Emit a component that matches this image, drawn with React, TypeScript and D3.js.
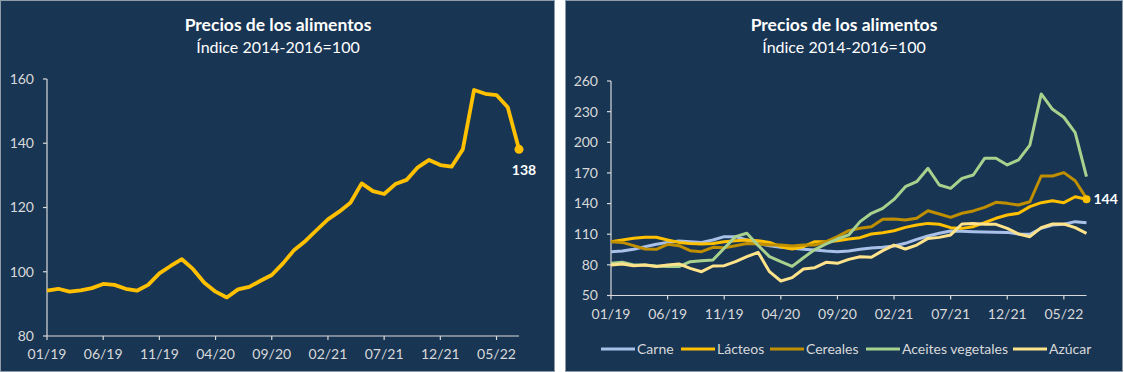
import React from 'react';
import * as d3 from 'd3';

// Meses 01/19 ... 07/22
const meses = d3.timeMonth.range(new Date(2019, 0, 1), new Date(2022, 7, 1));
const tickLabels = ['01/19', '06/19', '11/19', '04/20', '09/20', '02/21', '07/21', '12/21', '05/22'];

const indiceAlimentos = [
  94.1, 94.7, 93.8, 94.2, 94.9, 96.2, 95.9, 94.7, 94.1, 95.9,
  99.5, 101.8, 103.9, 100.8, 96.6, 93.8, 92.0, 94.5, 95.3, 97.2,
  99.0, 102.6, 106.8, 109.6, 113.0, 116.3, 118.7, 121.5, 127.5, 125.1,
  124.2, 127.3, 128.6, 132.5, 134.8, 133.2, 132.7, 138.1, 156.6, 155.4,
  155.0, 151.2, 138.1,
];

const carne = [
  92.9, 93.5, 95.2, 97.8, 100.1, 102.0, 103.3, 102.7, 102.0, 104.3,
  107.6, 107.6, 104.3, 101.0, 98.8, 97.2, 96.2, 95.2, 94.5, 93.5,
  92.9, 93.5, 95.2, 96.5, 97.2, 98.5, 101.1, 105.0, 108.2, 110.9,
  113.1, 113.0, 112.5, 112.2, 112.0, 111.8, 110.2, 110.0, 115.8, 119.0,
  119.7, 122.3, 121.3,
];
const lacteos = [
  102.7, 104.3, 106.0, 107.0, 107.0, 104.3, 102.0, 101.0, 100.4, 101.0,
  102.7, 103.7, 104.3, 103.7, 102.0, 97.8, 95.5, 97.8, 102.7, 102.7,
  103.7, 105.3, 106.6, 110.2, 111.5, 113.4, 116.7, 119.0, 120.6, 119.7,
  116.4, 115.7, 117.4, 121.3, 125.6, 128.8, 130.5, 137.0, 140.9, 142.8,
  140.9, 146.7, 144.2,
];
const cereales = [
  102.7, 102.0, 98.8, 95.5, 95.2, 100.1, 98.8, 93.9, 92.9, 97.2,
  96.8, 98.8, 101.0, 100.4, 99.4, 99.4, 98.5, 99.4, 99.4, 102.7,
  107.6, 113.5, 115.8, 117.4, 124.6, 124.9, 123.9, 125.6, 133.0, 129.8,
  126.5, 130.5, 132.8, 136.3, 141.2, 140.2, 138.6, 141.8, 167.0, 167.0,
  170.3, 162.4, 145.1,
];
const aceites = [
  81.5, 82.5, 79.9, 79.9, 78.9, 78.3, 78.3, 83.1, 84.1, 84.8,
  96.2, 107.6, 110.9, 99.0, 88.0, 83.1, 78.5, 87.0, 95.0, 100.5,
  105.3, 109.3, 122.3, 130.5, 135.3, 144.1, 156.5, 161.4, 174.5, 158.2,
  154.9, 164.7, 168.0, 184.3, 184.3, 177.8, 182.7, 197.3, 247.3, 232.3,
  224.5, 209.4, 166.3,
];
const azucar = [
  79.9, 80.9, 79.2, 79.9, 78.3, 79.9, 80.9, 76.6, 73.3, 78.9,
  79.2, 83.1, 88.0, 92.2, 73.3, 64.2, 67.5, 76.0, 77.2, 82.5,
  81.5, 85.4, 88.0, 87.4, 93.9, 99.4, 95.5, 99.4, 105.9, 106.9,
  109.3, 120.0, 120.6, 119.7, 119.7, 115.8, 110.2, 107.6, 116.4, 120.0,
  120.0, 116.4, 110.9,
];

const seriesNames = ['Carne', 'Lácteos', 'Cereales', 'Aceites vegetales', 'Azúcar'];
const seriesValues = [carne, lacteos, cereales, aceites, azucar];
const seriesColors = ['#a9c1e8', '#ffc000', '#bf8f00', '#a9d18e', '#ffe38a'];

const leftTicks = [80, 100, 120, 140, 160];
const rightTicks = [50, 80, 110, 140, 170, 200, 230, 260];

const BG = '#183554';
const AXIS = '#d9d9d9';
const FONT = 'Lato, "Open Sans", sans-serif';
const fmt = d3.timeFormat('%m/%y');

type AxesProps = {
  x: d3.ScaleLinear<number, number>;
  y: d3.ScaleLinear<number, number>;
  yTicks: number[];
  labelY: number;
};

const Axes = ({ x, y, yTicks, labelY }: AxesProps) => {
  const [x0, x1] = x.range();
  const [yb, yt] = y.range();
  const tickIdx = meses.map((m, i) => (tickLabels.includes(fmt(m)) ? i : -1)).filter((i) => i >= 0);
  return (
    <g>
      <line x1={x0} x2={x0} y1={yb} y2={yt} stroke={AXIS} strokeWidth={1.2} />
      <line x1={x0} x2={x1} y1={yb} y2={yb} stroke={AXIS} strokeWidth={1.2} />
      {yTicks.map((t) => (
        <g key={t}>
          <line x1={x0 - 4} x2={x0} y1={y(t)} y2={y(t)} stroke={AXIS} strokeWidth={1.2} />
          <text x={x0 - 13} y={y(t)} dy="0.35em" textAnchor="end" fill={AXIS} fontSize={14} fontFamily={FONT}>
            {t}
          </text>
        </g>
      ))}
      {tickIdx.map((i) => (
        <g key={i}>
          <line x1={x(i)} x2={x(i)} y1={yb} y2={yb + 4} stroke={AXIS} strokeWidth={1.2} />
          <text x={x(i)} y={labelY} dy="0.35em" textAnchor="middle" fill={AXIS} fontSize={14} fontFamily={FONT}>
            {fmt(meses[i])}
          </text>
        </g>
      ))}
    </g>
  );
};

const Title = ({ cx }: { cx: number }) => (
  <g fontFamily={FONT} fill="#ffffff" textAnchor="middle">
    <text x={cx} y={25} dy="0.35em" fontSize={17.5} fontWeight="bold">Precios de los alimentos</text>
    <text x={cx} y={47} dy="0.35em" fontSize={16}>Índice 2014-2016=100</text>
  </g>
);

const App = () => {
  // panel izquierdo
  const xL = d3.scaleLinear().domain([0, meses.length - 1]).range([47, 519]);
  const yL = d3.scaleLinear().domain([80, 160]).range([336, 79]);
  const lineL = d3.line<number>().x((_, i) => xL(i)).y((d) => yL(d));
  const lastL = indiceAlimentos.length - 1;

  // panel derecho
  const xR = d3.scaleLinear().domain([0, meses.length - 1]).range([611, 1086.5]);
  const yR = d3.scaleLinear().domain([50, 260]).range([295.5, 81]);
  const lineR = d3.line<number>().x((_, i) => xR(i)).y((d) => yR(d));
  const lastR = lacteos.length - 1;

  // leyenda
  const legendX = [601, 681, 770, 866, 1013];

  return (
    <svg width={1124} height={372} style={{ position: 'absolute', left: 0, top: 0, background: '#fff' }}>
      <rect x={0.5} y={0.5} width={554} height={371} fill={BG} stroke="#8e9bab" />
      <rect x={565.5} y={0.5} width={557} height={371} fill={BG} stroke="#8e9bab" />

      <Title cx={278} />
      <Axes x={xL} y={yL} yTicks={leftTicks} labelY={354} />
      <path d={lineL(indiceAlimentos) || ''} fill="none" stroke="#ffc000" strokeWidth={3.8} strokeLinejoin="round" />
      <circle cx={xL(lastL)} cy={yL(indiceAlimentos[lastL])} r={4.5} fill="#ffc000" />
      <text x={xL(lastL) + 5} y={yL(indiceAlimentos[lastL]) + 21} dy="0.35em" textAnchor="middle" fill="#fff"
        fontFamily={FONT} fontWeight="bold" fontSize={14}>
        {Math.round(indiceAlimentos[lastL])}
      </text>

      <Title cx={844} />
      <Axes x={xR} y={yR} yTicks={rightTicks} labelY={314} />
      {seriesValues.map((vals, k) => (
        <path key={seriesNames[k]} d={lineR(vals) || ''} fill="none" stroke={seriesColors[k]} strokeWidth={3}
          strokeLinejoin="round" />
      ))}
      <circle cx={xR(lastR)} cy={yR(lacteos[lastR])} r={4} fill="#ffc000" />
      <text x={xR(lastR) + 7} y={yR(lacteos[lastR])} dy="0.35em" fill="#fff" fontFamily={FONT} fontWeight="bold"
        fontSize={14}>
        {Math.round(lacteos[lastR])}
      </text>

      {seriesNames.map((name, k) => (
        <g key={name} transform={`translate(${legendX[k]},349)`}>
          <line x1={0} x2={34} y1={0} y2={0} stroke={seriesColors[k]} strokeWidth={3} />
          <text x={36} y={0} dy="0.35em" fill={AXIS} fontFamily={FONT} fontSize={14}>{name}</text>
        </g>
      ))}
    </svg>
  );
};

export default App;
